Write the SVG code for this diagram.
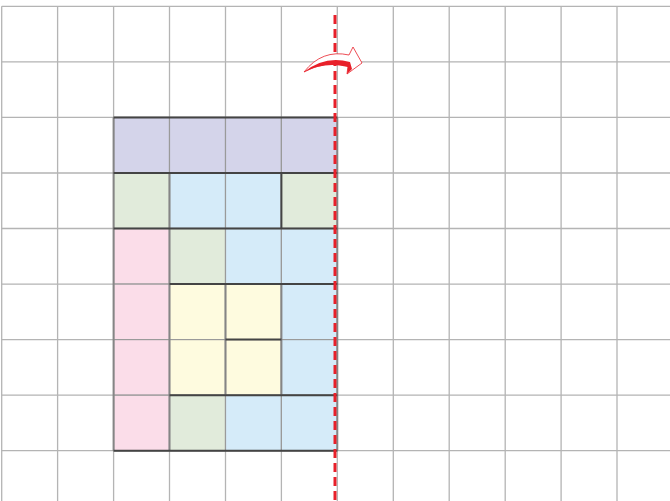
<svg xmlns="http://www.w3.org/2000/svg" width="670" height="501" viewBox="0 0 670 501">
<style>
.g{stroke:#b4b4b4;stroke-width:1.3;fill:none}
.c{stroke:#9a9a9a;stroke-width:1.2}
.d{stroke:#444;stroke-width:2;fill:none}
.m{stroke:#858585;stroke-width:2;fill:none}
.pu{fill:#d4d4ea}.gr{fill:#e1ebdb}.bl{fill:#d5ebf9}.pk{fill:#fbdde9}.ye{fill:#fefbdf}
</style>
<rect width="670" height="501" fill="#fff"/>
<g id="grid">
<path class="g" d="M1.7 6.3V501M57.6 6.3V501M113.6 6.3V501M169.5 6.3V501M225.5 6.3V501M281.4 6.3V501M337.3 6.3V501M393.3 6.3V501M449.2 6.3V501M505.2 6.3V501M561.1 6.3V501M617 6.3V501"/>
<path class="g" d="M1.7 6.3H670M1.7 61.9H670M1.7 117.4H670M1.7 173H670M1.7 228.5H670M1.7 284.1H670M1.7 339.6H670M1.7 395.2H670M1.7 450.7H670"/>
</g>
<g id="cells">
<rect class="pu c" x="113.6" y="117.4" width="55.9" height="55.6"/>
<rect class="pu c" x="169.5" y="117.4" width="56" height="55.6"/>
<rect class="pu c" x="225.5" y="117.4" width="55.9" height="55.6"/>
<rect class="pu c" x="281.4" y="117.4" width="55.9" height="55.6"/>
<rect class="gr c" x="113.6" y="173" width="55.9" height="55.5"/>
<rect class="bl c" x="169.5" y="173" width="56" height="55.5"/>
<rect class="bl c" x="225.5" y="173" width="55.9" height="55.5"/>
<rect class="gr c" x="281.4" y="173" width="55.9" height="55.5"/>
<rect class="pk c" x="113.6" y="228.5" width="55.9" height="55.6"/>
<rect class="gr c" x="169.5" y="228.5" width="56" height="55.6"/>
<rect class="bl c" x="225.5" y="228.5" width="55.9" height="55.6"/>
<rect class="bl c" x="281.4" y="228.5" width="55.9" height="55.6"/>
<rect class="pk c" x="113.6" y="284.1" width="55.9" height="55.5"/>
<rect class="ye c" x="169.5" y="284.1" width="56" height="55.5"/>
<rect class="ye c" x="225.5" y="284.1" width="55.9" height="55.5"/>
<rect class="bl c" x="281.4" y="284.1" width="55.9" height="55.5"/>
<rect class="pk c" x="113.6" y="339.6" width="55.9" height="55.6"/>
<rect class="ye c" x="169.5" y="339.6" width="56" height="55.6"/>
<rect class="ye c" x="225.5" y="339.6" width="55.9" height="55.6"/>
<rect class="bl c" x="281.4" y="339.6" width="55.9" height="55.6"/>
<rect class="pk c" x="113.6" y="395.2" width="55.9" height="55.5"/>
<rect class="gr c" x="169.5" y="395.2" width="56" height="55.5"/>
<rect class="bl c" x="225.5" y="395.2" width="55.9" height="55.5"/>
<rect class="bl c" x="281.4" y="395.2" width="55.9" height="55.5"/>
</g>
<g id="borders">
<path class="m" d="M169.5 173V450.7M113.6 117.4V450.7M225.5 284.1V395.2M281.4 284.1V395.2M337.3 117.4V450.7"/>
<path class="d" d="M113.6 117.4H337.3M113.6 173H337.3M113.6 228.5H337.3M169.5 284.1H337.3M225.5 339.6H281.4M169.5 395.2H337.3M113.6 450.7H337.3M281.4 173V228.5"/>
</g>
<g id="fold-line">
<path d="M335 15V501" stroke="#e8202a" stroke-width="3" stroke-dasharray="9 5" fill="none"/>
</g>
<g id="fold-arrow">
<path d="M304 72Q322 49 349 55L353 47L362 63L347 74L348 66Q325 60 304 72Z" fill="#fff" stroke="#e8202a" stroke-width="0.8" stroke-linejoin="round"/>
<path d="M304 72Q325 61 348 67L347 74L352 69L350 62Q325 55 304 72Z" fill="#e8202a"/>
</g>
</svg>
